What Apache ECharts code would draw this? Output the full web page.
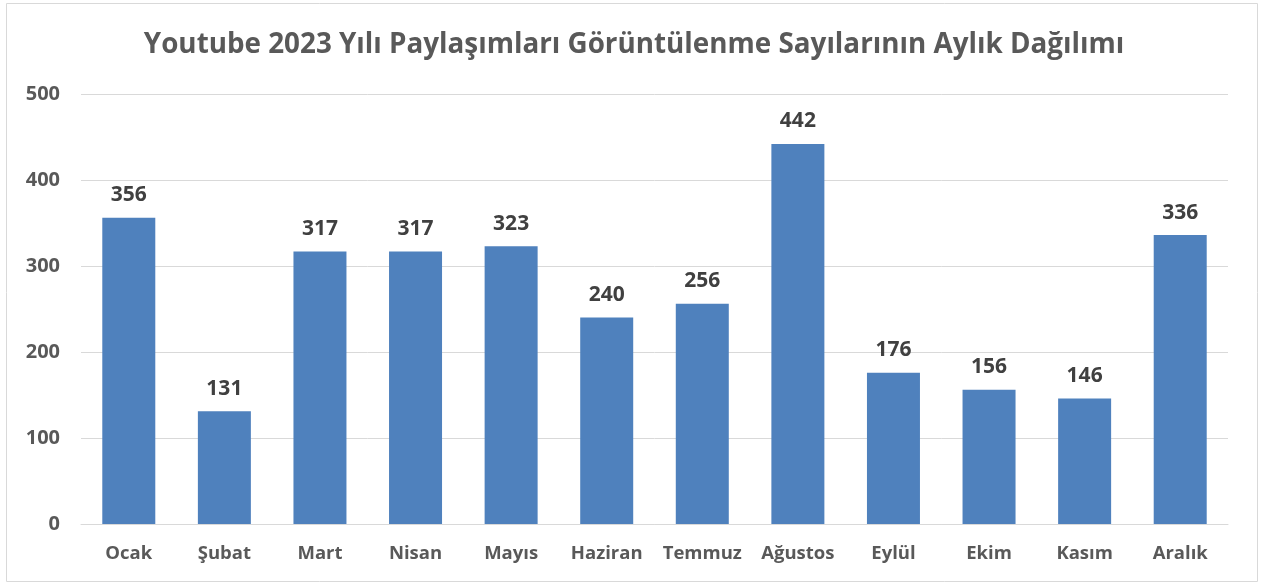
<!DOCTYPE html>
<html>
<head>
<meta charset="utf-8">
<script src="https://cdn.jsdelivr.net/npm/echarts@6/dist/echarts.min.js"></script>
<style>
  html, body { margin: 0; padding: 0; background: #fff; }
  #chart { width: 1268px; height: 583px; }
</style>
</head>
<body>
<div id="chart"></div>
<script>
// aylar ve görüntülenme sayıları
var months = ["Ocak", "Şubat", "Mart", "Nisan", "Mayıs", "Haziran", "Temmuz", "Ağustos", "Eylül", "Ekim", "Kasım", "Aralık"];
var views = [356, 131, 317, 317, 323, 240, 256, 442, 176, 156, 146, 336];
var yTicks = [0, 100, 200, 300, 400, 500];

var font = '"Open Sans", "Noto Sans", sans-serif';
var chart = echarts.init(document.getElementById("chart"));
chart.setOption({
    animation: false,
    textStyle: { fontFamily: font },
    title: {
        text: "Youtube 2023 Yılı Paylaşımları Görüntülenme Sayılarının Aylık Dağılımı",
        left: "center",
        top: 26,
        textStyle: {
            color: "#595959",
            fontSize: 27.8,
            fontWeight: "bold",
            fontFamily: font
        }
    },
    graphic: [{
        type: "rect",
        shape: { x: 6.5, y: 3.5, width: 1251, height: 578 },
        style: { fill: "none", stroke: "#d9d9d9", lineWidth: 1 },
        silent: true
    }],
    grid: {
        left: 81,
        right: 40,
        top: 94,
        bottom: 59
    },
    xAxis: {
        type: "category",
        data: months,
        axisTick: { show: false },
        axisLine: { lineStyle: { color: "#d9d9d9", width: 1 } },
        axisLabel: {
            interval: 0,
            color: "#595959",
            fontSize: 18.5,
            fontWeight: "bold",
            margin: 20,
            fontFamily: font
        }
    },
    yAxis: {
        type: "value",
        min: yTicks[0],
        max: yTicks[yTicks.length - 1],
        interval: 100,
        axisLine: { show: false },
        axisTick: { show: false },
        splitLine: { lineStyle: { color: "#d9d9d9", width: 1 } },
        axisLabel: {
            color: "#595959",
            fontSize: 20,
            fontWeight: "bold",
            margin: 21,
            fontFamily: font
        }
    },
    series: [{
        type: "bar",
        data: views,
        barWidth: 53,
        itemStyle: { color: "#4f81bd" },
        label: {
            show: true,
            position: "top",
            distance: 12,
            color: "#404040",
            fontSize: 21,
            fontWeight: "bold",
            fontFamily: font
        }
    }]
});
</script>
</body>
</html>
